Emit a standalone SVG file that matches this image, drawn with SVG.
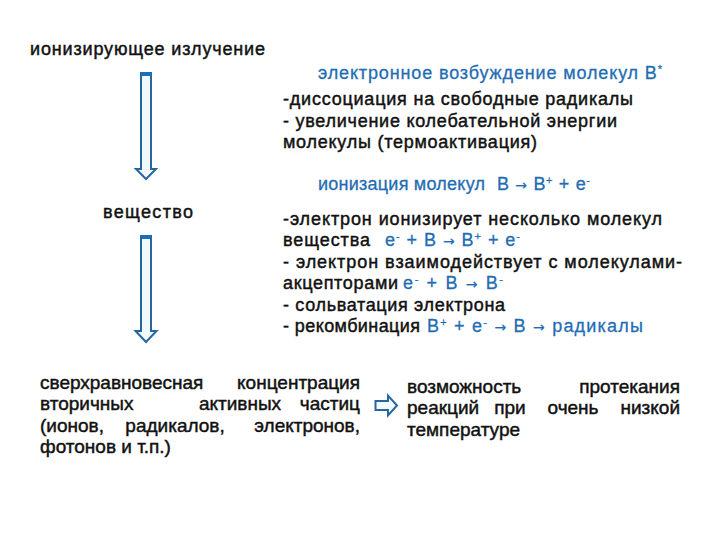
<svg xmlns="http://www.w3.org/2000/svg" width="720" height="540" viewBox="0 0 720 540">
<style>
text{font-family:"Liberation Sans",Arial,sans-serif;font-size:18px;fill:#111;stroke:#111;stroke-width:0.45;}
.b{fill:#1f6db3;stroke:#1f6db3;stroke-width:0.3;}
.sup{font-size:11px;}
.ar{font-family:"DejaVu Sans",sans-serif;font-size:14px;stroke-width:0.2;}
.l{font-size:19px;}
.arr{fill:#f2f9ff;stroke:#26679c;stroke-width:2;stroke-linejoin:miter;}
.cap{fill:#1a6fba;}
</style>
<rect width="720" height="540" fill="#fff"/>
<g id="connectors">
<polygon class="arr" points="141,73 151,73 151,169 156,169 146,179 136,169 141,169"/>
<rect class="cap" x="141" y="72" width="10" height="4"/>
<polygon class="arr" points="141,236 151,236 151,331 156.5,331 146,342 135.5,331 141,331"/>
<rect class="cap" x="141" y="235" width="10" height="4"/>
<polygon class="arr" points="375.5,401 388,401 388,395.5 397,405.5 388,415.5 388,410 375.5,410"/>
</g>
<g id="radiation">
<text x="30" y="55" textLength="235" lengthAdjust="spacing">ионизирующее излучение</text>
</g>
<g id="excitation">
<text class="b" x="318" y="79" textLength="344" lengthAdjust="spacing">электронное возбуждение молекул В<tspan class="sup" dy="-6">*</tspan></text>
</g>
<g id="excitation-effects">
<text x="283" y="105" textLength="350" lengthAdjust="spacing">-диссоциация на свободные радикалы</text>
<text x="283" y="127" textLength="334" lengthAdjust="spacing">- увеличение колебательной энергии</text>
<text x="283" y="148" textLength="254" lengthAdjust="spacing">молекулы (термоактивация)</text>
</g>
<g id="ionization">
<text class="b" x="318" y="190" textLength="167" lengthAdjust="spacing">ионизация молекул</text>
<text class="b" x="497" y="190" textLength="93" lengthAdjust="spacing">В <tspan class="ar">→</tspan> В<tspan class="sup" dy="-6">+</tspan><tspan dy="6"> + е</tspan><tspan class="sup" dy="-6">-</tspan></text>
</g>
<g id="substance">
<text x="103" y="218" textLength="90" lengthAdjust="spacing">вещество</text>
</g>
<g id="ionization-effects">
<text x="283" y="225" textLength="379" lengthAdjust="spacing">-электрон ионизирует несколько молекул</text>
<text x="283" y="246" textLength="87" lengthAdjust="spacing">вещества</text>
<text class="b" x="385" y="246" textLength="135" lengthAdjust="spacing">е<tspan class="sup" dy="-6">-</tspan><tspan dy="6"> + В </tspan><tspan class="ar">→</tspan> В<tspan class="sup" dy="-6">+</tspan><tspan dy="6"> + е</tspan><tspan class="sup" dy="-6">-</tspan></text>
<text x="283" y="268" textLength="399" lengthAdjust="spacing">-  электрон взаимодействует с молекулами-</text>
<text x="283" y="289" textLength="115" lengthAdjust="spacing">акцепторами</text>
<text class="b" x="403" y="289" textLength="100" lengthAdjust="spacing">е<tspan class="sup" dy="-6">-</tspan><tspan dy="6"> + В </tspan><tspan class="ar">→</tspan> В<tspan class="sup" dy="-6">-</tspan></text>
<text x="283" y="311" textLength="222" lengthAdjust="spacing">- сольватация электрона</text>
<text x="283" y="332" textLength="137" lengthAdjust="spacing">- рекомбинация</text>
<text class="b" x="427" y="332" textLength="216" lengthAdjust="spacing">В<tspan class="sup" dy="-6">+</tspan><tspan dy="6"> + е</tspan><tspan class="sup" dy="-6">-</tspan><tspan dy="6"> </tspan><tspan class="ar">→</tspan> В <tspan class="ar">→</tspan> радикалы</text>
</g>
<g id="concentration">
<text class="l" x="40" y="389">сверхравновесная</text>
<text class="l" x="360" y="389" text-anchor="end">концентрация</text>
<text class="l" x="40" y="410">вторичных</text>
<text class="l" x="240" y="410" text-anchor="middle">активных</text>
<text class="l" x="360" y="410" text-anchor="end">частиц</text>
<text class="l" x="40" y="432">(ионов,</text>
<text class="l" x="175" y="432" text-anchor="middle">радикалов,</text>
<text class="l" x="360" y="432" text-anchor="end">электронов,</text>
<text class="l" x="40" y="453">фотонов и т.п.)</text>
</g>
<g id="possibility">
<text class="l" x="407" y="393">возможность</text>
<text class="l" x="680" y="393" text-anchor="end">протекания</text>
<text class="l" x="407" y="414">реакций</text>
<text class="l" x="510" y="414" text-anchor="middle">при</text>
<text class="l" x="573" y="414" text-anchor="middle">очень</text>
<text class="l" x="680" y="414" text-anchor="end">низкой</text>
<text class="l" x="407" y="436">температуре</text>
</g>
</svg>
